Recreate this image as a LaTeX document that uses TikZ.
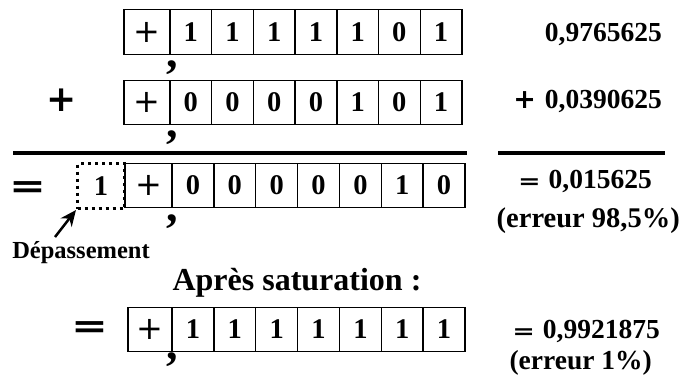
\documentclass[tikz,border=0pt]{standalone}
\usepackage{fontspec}
\usepackage{graphicx}
\setmainfont{Liberation Serif}
\newfontfamily\opfont{DejaVu Sans}
\usetikzlibrary{arrows.meta}
\newcommand\bitrow[6]{%
  \node[signcell, minimum width=#4pt] (#1s) at (#2,#3) {+};
  \foreach \b [count=\i] in {#6} {
    \node[digitcell, minimum width=#5pt] (#1\i) at ({#2+#4+(\i-1)*#5},#3) {\b};
  }%
}
\newcommand\thickeq[1]{{\opfont\bfseries\fontsize{#1}{#1}\selectfont\scalebox{1}[0.75]{=}}}
\begin{document}
\begin{tikzpicture}[x=1pt,y=-1pt,
  cell/.style={draw, line width=1.4pt, inner sep=0pt, outer sep=0pt,
    minimum height=44.5pt, anchor=west,
    font=\fontsize{28.5}{28.5}\selectfont\bfseries},
  signcell/.style={cell, font=\opfont\fontsize{32}{32}\selectfont},
  digitcell/.style={cell},
  ovfbox/.style={draw, line width=3pt, dash pattern=on 3pt off 4pt,
    inner sep=0pt, minimum width=47pt, minimum height=45pt,
    font=\fontsize{28.5}{28.5}\selectfont\bfseries},
  commamark/.style={inner sep=0pt, font=\fontsize{46}{46}\selectfont\bfseries},
  txt/.style={inner sep=0pt, anchor=east, font=\fontsize{27.5}{27.5}\selectfont\bfseries},
  lbl/.style={inner sep=0pt, font=\fontsize{24.5}{24.5}\selectfont\bfseries},
  title/.style={inner sep=0pt, font=\fontsize{32}{32}\selectfont\bfseries},
  bigop/.style={inner sep=0pt, font=\opfont\bfseries\fontsize{36}{36}\selectfont},
  rule/.style={line width=4pt},
  pointer/.style={line width=2.5pt, -{Stealth[length=16pt,width=14pt]}}
]
\useasboundingbox (0,0) rectangle (682,376);
% rows of bits
\bitrow{a}{124}{32}{46}{41.7}{1,1,1,1,1,0,1}
\bitrow{b}{124}{102.5}{46}{41.7}{0,0,0,0,1,0,1}
\bitrow{c}{125}{185.5}{47}{41.86}{0,0,0,0,0,1,0}
\bitrow{d}{128}{329.5}{44}{41.86}{1,1,1,1,1,1,1}
% overflow box
\node[ovfbox] (ovf) at (101,186) {1};
% commas
\node[commamark] (ca) at (172,68) {,};
\node[commamark] (cb) at (172,138) {,};
\node[commamark] (cc) at (172,222) {,};
\node[commamark] (cd) at (172,360) {,};
% operators
\node[bigop] (plusop) at (62,100) {+};
\node[inner sep=0pt] (eqop1) at (28,190) {\thickeq{44}};
\node[inner sep=0pt] (eqop2) at (90,330) {\thickeq{44}};
% rules
\coordinate (r1a) at (13,153);
\coordinate (r1b) at (467,153);
\coordinate (r2a) at (498,153);
\coordinate (r2b) at (665,153);
\draw[rule] (r1a) -- (r1b);
\draw[rule] (r2a) -- (r2b);
% overflow label and arrow
\node[lbl] (dep) at (81,253) {Dépassement};
\coordinate (arrtail) at (55,237);
\draw[pointer] (arrtail) -- (ovf.south west);
% title
\node[title] (sat) at (297,283) {Après saturation :};
% right column
\node[txt] (v1) at (662,34) {0,9765625};
\node[txt] (v2) at (662,101.5) {{\opfont\fontsize{27}{27}\selectfont +}\hspace{9pt}0,0390625};
\node[txt] (v3) at (652,181.5) {\thickeq{27}\hspace{8pt}0,015625};
\node[txt, font=\fontsize{28.5}{28.5}\selectfont\bfseries] (v4) at (680,221) {(erreur 98,5\%)};
\node[txt] (v5) at (660,331.5) {\thickeq{27}\hspace{8pt}0,9921875};
\node[txt] (v6) at (652,363) {(erreur 1\%)};
\end{tikzpicture}
\end{document}
